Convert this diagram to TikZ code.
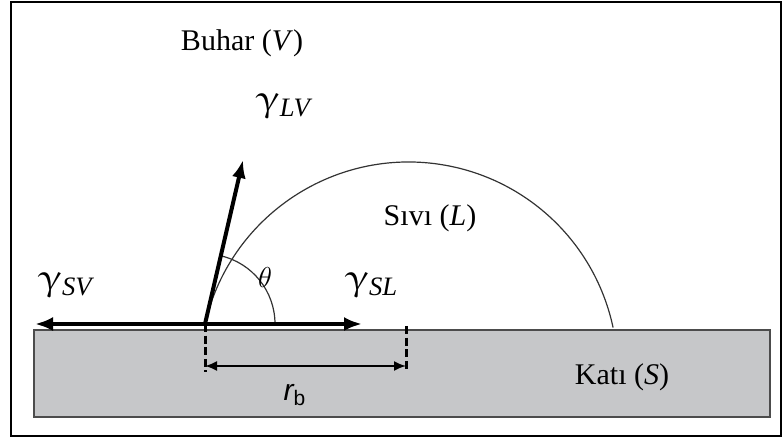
\documentclass[tikz,border=0pt]{standalone}
\usepackage{upgreek}
\usepackage{fontspec}
\setmainfont{Liberation Serif}
\newfontfamily\arialfont{Liberation Sans}
\usetikzlibrary{arrows.meta, positioning}
\definecolor{katigri}{RGB}{198,199,201}
\tikzset{
  force/.style   = {-{Latex[length=9pt, width=7pt]}, line width=2pt},
  dimline/.style = {{Latex[length=6pt, width=5pt]}-{Latex[length=6pt, width=5pt]}, line width=0.9pt},
  guide/.style   = {dash pattern=on 4pt off 1.8pt, line width=1.5pt},
  thinarc/.style = {line width=0.6pt, black!80},
  lbl/.style     = {font=\fontsize{15}{18}\selectfont, inner sep=1pt},
  glbl/.style    = {font=\fontsize{19}{22}\selectfont, inner sep=1pt},
}
\newcommand{\gsym}[1]{$\upgamma$\textsubscript{\textit{#1}}}
\begin{document}
\begin{tikzpicture}[x=0.5pt, y=0.5pt]
    \useasboundingbox (0,0) rectangle (782,439);
    \draw[line width=1pt] (11,3) rectangle (781,437);

    % kati zemin
    \draw[fill=katigri, draw=black!70, line width=0.8pt] (34,22) rectangle (770,109);

    \coordinate (O)    at (205,115);
    \coordinate (svuc) at (35,115);
    \coordinate (sluc) at (362,115);
    \coordinate (lvuc) at (243,279);
    \coordinate (sag)  at (406,113);

    % damla ve temas acisi
    \draw[thinarc] (O) arc[start angle=167, end angle=12, radius=209];
    \draw[thinarc] (O) ++(70,0) arc[start angle=0, end angle=77, radius=70];

    \draw[force] (O) -- (svuc);
    \draw[force] (O) -- (sluc);
    \draw[force] (O) -- (lvuc);

    % r_b olcusu
    \coordinate (solalt) at (205,67);
    \coordinate (sagalt) at (406,67);
    \draw[guide] (O) -- (solalt);
    \draw[guide] (sag) -- (sagalt);
    \draw[dimline] ([yshift=3pt]solalt) -- ([yshift=3pt]sagalt);

    \node[lbl]  (buhar) at (242,396) {Buhar (\textit{V})};
    \node[glbl] (glv)   at (285,333) {\gsym{LV}};
    \node[glbl] (gsv)   at (67,154)  {\gsym{SV}};
    \node[glbl] (gsl)   at (372,154) {\gsym{SL}};
    \node[lbl]  (teta)  at (265,161) {$\theta$};
    \node[lbl]  (sivi)  at (430,221) {Sıvı (\textit{L})};
    \node[lbl]  (kati)  at (622,62)  {Katı (\textit{S})};
    \node[lbl]  (rb)    at (295,44)  {{\arialfont\itshape r}\textsubscript{\arialfont b}};
\end{tikzpicture}
\end{document}
